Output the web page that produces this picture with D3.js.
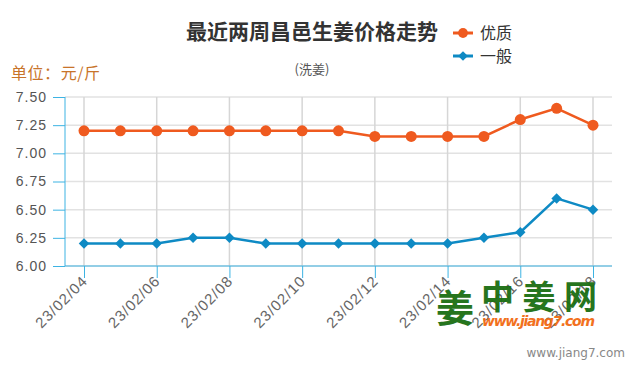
<!DOCTYPE html>
<html>
<head>
<meta charset="utf-8">
<script src="https://cdn.jsdelivr.net/npm/d3@7"></script>
<style>
  body { margin: 0; background: #fff; }
  svg { display: block; font-family: "Open Sans", "Noto Sans CJK SC", sans-serif; }
</style>
</head>
<body>
<div id="chart"></div>
<script>
// chart data
var dates = ["23/02/04","23/02/05","23/02/06","23/02/07","23/02/08","23/02/09","23/02/10","23/02/11",
             "23/02/12","23/02/13","23/02/14","23/02/15","23/02/16","23/02/17","23/02/18"];
var premium = [7.20,7.20,7.20,7.20,7.20,7.20,7.20,7.20,7.15,7.15,7.15,7.15,7.30,7.40,7.25];
var normal  = [6.20,6.20,6.20,6.25,6.25,6.20,6.20,6.20,6.20,6.20,6.20,6.25,6.30,6.60,6.50];
var yTicks = [6.00,6.25,6.50,6.75,7.00,7.25,7.50];
var xLabels = ["23/02/04","23/02/06","23/02/08","23/02/10","23/02/12","23/02/14","23/02/16","23/02/18"];
var seriesNames = ["优质","一般"];

var width = 636, height = 370;
var plot = {left: 65, right: 612, top: 97, bottom: 266};

var svg = d3.select("#chart").append("svg")
    .attr("width", width)
    .attr("height", height);

var x = d3.scalePoint()
    .domain(dates)
    .range([84, 593]);

var y = d3.scaleLinear()
    .domain([6.00, 7.50])
    .range([plot.bottom, plot.top]);

//horizontal grid
svg.append("g").selectAll("line")
    .data(yTicks)
    .enter().append("line")
    .attr("x1", plot.left).attr("x2", plot.right)
    .attr("y1", function(d) { return y(d); })
    .attr("y2", function(d) { return y(d); })
    .attr("stroke", "#e2e2e2")
    .attr("stroke-width", 1.5);

//vertical grid
svg.append("g").selectAll("line")
    .data(xLabels)
    .enter().append("line")
    .attr("x1", function(d) { return x(d); })
    .attr("x2", function(d) { return x(d); })
    .attr("y1", plot.top).attr("y2", plot.bottom)
    .attr("stroke", "#d6d6d6")
    .attr("stroke-width", 1.5);

//y axis
var yAxis = d3.axisLeft(y)
    .tickValues(yTicks)
    .tickSize(12)
    .tickPadding(6)
    .tickFormat(d3.format(".2f"));

var gy = svg.append("g")
    .attr("transform", "translate(" + plot.left + ",0)")
    .call(yAxis);
gy.select(".domain").attr("stroke", "#3db3e3").attr("d", "M0," + plot.top + "V" + plot.bottom);
gy.selectAll(".tick line").attr("stroke", "#3db3e3");
gy.selectAll("text")
    .attr("fill", "#555")
    .style("font-size", "14px")
    .style("letter-spacing", "1px");

//x axis
var xAxis = d3.axisBottom(x)
    .tickValues(xLabels)
    .tickSize(12)
    .tickPadding(4);

var gx = svg.append("g")
    .attr("transform", "translate(0," + plot.bottom + ")")
    .call(xAxis);
gx.select(".domain").attr("stroke", "#3db3e3").attr("d", "M" + plot.left + ",0H" + plot.right);
gx.selectAll(".tick line").attr("stroke", "#3db3e3");
gx.selectAll("text")
    .attr("fill", "#666")
    .style("font-size", "15px")
    .style("letter-spacing", "1px")
    .attr("text-anchor", "end")
    .attr("y", 0)
    .attr("dy", null)
    .attr("transform", "translate(4,16) rotate(-45)");

//lines
var line = d3.line()
    .x(function(d, i) { return x(dates[i]); })
    .y(function(d) { return y(d); });

var colors = ["#ef5a1f", "#0e8ac4"];

svg.append("path")
    .datum(premium)
    .attr("d", line)
    .attr("fill", "none")
    .attr("stroke", colors[0])
    .attr("stroke-width", 2.5);

svg.append("g").selectAll("circle")
    .data(premium)
    .enter().append("circle")
    .attr("cx", function(d, i) { return x(dates[i]); })
    .attr("cy", function(d) { return y(d); })
    .attr("r", 5.5)
    .attr("fill", colors[0]);

svg.append("path")
    .datum(normal)
    .attr("d", line)
    .attr("fill", "none")
    .attr("stroke", colors[1])
    .attr("stroke-width", 2.5);

var diamond = d3.symbol().type(d3.symbolDiamond2).size(70);
svg.append("g").selectAll("path")
    .data(normal)
    .enter().append("path")
    .attr("d", diamond)
    .attr("transform", function(d, i) { return "translate(" + x(dates[i]) + "," + y(d) + ")"; })
    .attr("fill", colors[1]);

//title
svg.append("text")
    .attr("x", 312).attr("y", 39)
    .attr("text-anchor", "middle")
    .style("font-family", "'Noto Sans CJK SC', sans-serif")
    .style("font-size", "21px")
    .style("font-weight", "bold")
    .attr("fill", "#333")
    .text("最近两周昌邑生姜价格走势");

svg.append("text")
    .attr("x", 312).attr("y", 74)
    .attr("text-anchor", "middle")
    .style("font-family", "'Noto Sans CJK SC', sans-serif")
    .style("font-size", "13px")
    .attr("fill", "#555")
    .text("(洗姜)");

svg.append("text")
    .attr("x", 11).attr("y", 79)
    .attr("textLength", 89)
    .style("font-family", "'Noto Sans CJK SC', sans-serif")
    .style("font-size", "16px")
    .attr("fill", "#c8742a")
    .text("单位：元/斤");

//legend
var legend = svg.append("g").selectAll("g")
    .data(seriesNames)
    .enter().append("g")
    .attr("transform", function(d, i) { return "translate(453," + (33 + i * 23) + ")"; });

legend.append("line")
    .attr("x1", 0).attr("x2", 20)
    .attr("stroke", function(d, i) { return colors[i]; })
    .attr("stroke-width", 3);

legend.append("path")
    .attr("d", function(d, i) { return i === 0 ? d3.symbol().type(d3.symbolCircle).size(75)() : d3.symbol().type(d3.symbolDiamond2).size(60)(); })
    .attr("transform", "translate(10,0)")
    .attr("fill", function(d, i) { return colors[i]; });

legend.append("text")
    .attr("x", 27).attr("y", 6)
    .style("font-family", "'Noto Sans CJK SC', sans-serif")
    .style("font-size", "16px")
    .attr("fill", "#333")
    .text(function(d) { return d; });

//watermark logo
var logo = svg.append("g").attr("opacity", 0.95);
logo.append("text")
    .attr("x", 436).attr("y", 322)
    .style("font-family", "'Noto Sans CJK SC', sans-serif")
    .style("font-size", "38px")
    .style("font-weight", "bold")
    .attr("fill", "#1b6e12")
    .text("姜");
logo.append("text")
    .attr("x", 481).attr("y", 309)
    .attr("textLength", 116)
    .style("font-family", "'Noto Sans CJK SC', sans-serif")
    .style("font-size", "33px")
    .style("font-weight", "bold")
    .attr("fill", "#1b6e12")
    .text("中姜网");
logo.append("text")
    .attr("x", 482).attr("y", 326)
    .attr("textLength", 113)
    .style("font-family", "'DejaVu Sans', sans-serif")
    .style("font-size", "14px")
    .style("font-weight", "bold")
    .style("font-style", "italic")
    .attr("fill", "#f26a12")
    .text("www.jiang7.com");

svg.append("text")
    .attr("x", 625).attr("y", 357)
    .attr("text-anchor", "end")
    .style("font-family", "'DejaVu Sans', sans-serif")
    .style("font-size", "12px")
    .attr("fill", "#888")
    .text("www.jiang7.com");
</script>
</body>
</html>
